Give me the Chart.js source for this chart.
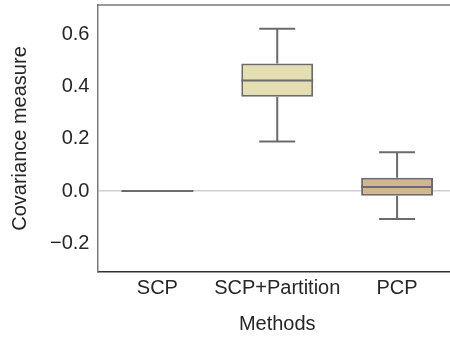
<!DOCTYPE html>
<html>
<head>
<meta charset="utf-8">
<script src="https://cdn.jsdelivr.net/npm/chart.js@4/dist/chart.umd.min.js"></script>
<style>
  html, body { margin: 0; padding: 0; background: #fff; overflow: hidden; }
  #wrap { width: 450px; height: 339px; overflow: hidden; }
  #box { width: 460px; height: 339px; }
</style>
</head>
<body>
<div id="wrap"><div id="box"><canvas id="chart"></canvas></div></div>
<script>
var methods = ['SCP', 'SCP+Partition', 'PCP'];
var whiskerLow = [0, 0.190, -0.107];
var q1 = [0, 0.361, -0.018];
var median = [0, 0.424, 0.016];
var q3 = [0, 0.489, 0.051];
var whiskerHigh = [0, 0.622, 0.149];
var boxColors = ['#c9c9c9', '#e3dfb0', '#d2b690'];
var yTicks = [-0.2, 0.0, 0.2, 0.4, 0.6];

var lineGray = '#6b6b6b';

// whiskers, caps and medians drawn on top of the floating bars
var boxParts = {
    id: 'boxParts',
    afterDatasetsDraw: function (chart) {
        var ctx = chart.ctx;
        var x = chart.scales.x;
        var y = chart.scales.y;
        var bars = chart.getDatasetMeta(0).data;
        ctx.save();
        ctx.strokeStyle = lineGray;
        ctx.lineWidth = 2;
        for (var i = 0; i < methods.length; i++) {
            var cx = x.getPixelForValue(i);
            var half = bars[i].width / 2;
            var cap = half / 2;
            ctx.beginPath();
            ctx.moveTo(cx, y.getPixelForValue(q3[i]));
            ctx.lineTo(cx, y.getPixelForValue(whiskerHigh[i]));
            ctx.moveTo(cx - cap, y.getPixelForValue(whiskerHigh[i]));
            ctx.lineTo(cx + cap, y.getPixelForValue(whiskerHigh[i]));
            ctx.moveTo(cx, y.getPixelForValue(q1[i]));
            ctx.lineTo(cx, y.getPixelForValue(whiskerLow[i]));
            ctx.moveTo(cx - cap, y.getPixelForValue(whiskerLow[i]));
            ctx.lineTo(cx + cap, y.getPixelForValue(whiskerLow[i]));
            ctx.moveTo(cx - half, y.getPixelForValue(median[i]));
            ctx.lineTo(cx + half, y.getPixelForValue(median[i]));
            ctx.stroke();
        }
        // top spine
        var a = chart.chartArea;
        ctx.strokeStyle = '#7a7a7a';
        ctx.lineWidth = 1.5;
        ctx.beginPath();
        ctx.moveTo(a.left, a.top);
        ctx.lineTo(a.right, a.top);
        ctx.stroke();
        ctx.restore();
    }
};

var boxData = methods.map(function (m, i) { return [q1[i], q3[i]]; });

Chart.defaults.font.family = '"Liberation Sans", Arial, sans-serif';
Chart.defaults.color = '#262626';

new Chart(document.getElementById('chart').getContext('2d'), {
    type: 'bar',
    data: {
        labels: methods,
        datasets: [{
            data: boxData,
            backgroundColor: boxColors,
            borderColor: lineGray,
            borderWidth: 2,
            borderSkipped: false,
            barPercentage: 0.6,
            categoryPercentage: 1.0
        }]
    },
    options: {
        responsive: true,
        maintainAspectRatio: false,
        animation: false,
        layout: { padding: { top: 5, right: 3, left: 0, bottom: 3 } },
        plugins: {
            legend: { display: false },
            tooltip: { enabled: false }
        },
        scales: {
            x: {
                offset: true,
                grid: { display: false, drawTicks: false },
                border: { display: true, color: '#333333', width: 1.5 },
                ticks: { font: { size: 20 }, padding: 4, color: '#262626', autoSkip: false, maxRotation: 0, minRotation: 0 },
                title: { display: true, text: 'Methods', font: { size: 20 }, padding: { top: 8, bottom: 0 }, color: '#262626' },
                afterFit: function (axis) { axis.paddingLeft = 0; axis.paddingRight = 0; }
            },
            y: {
                min: -0.31,
                max: 0.713,
                afterBuildTicks: function (axis) {
                    axis.ticks = yTicks.map(function (v) { return { value: v }; });
                },
                afterFit: function (axis) { axis.paddingTop = 0; axis.paddingBottom = 0; },
                grid: {
                    drawTicks: false,
                    color: function (c) { return c.tick && c.tick.value === 0 ? '#d0d0d0' : 'rgba(0,0,0,0)'; },
                    lineWidth: 1.5
                },
                border: { display: true, color: '#7a7a7a', width: 1.5 },
                ticks: {
                    font: { size: 20 },
                    padding: 8,
                    color: '#262626',
                    callback: function (v) { return (v < 0 ? '\u2212' : '') + Math.abs(v).toFixed(1); }
                },
                title: { display: true, text: 'Covariance measure', font: { size: 20 }, padding: { top: 8, bottom: 10 }, color: '#262626' }
            }
        }
    },
    plugins: [boxParts]
});
</script>
</body>
</html>
